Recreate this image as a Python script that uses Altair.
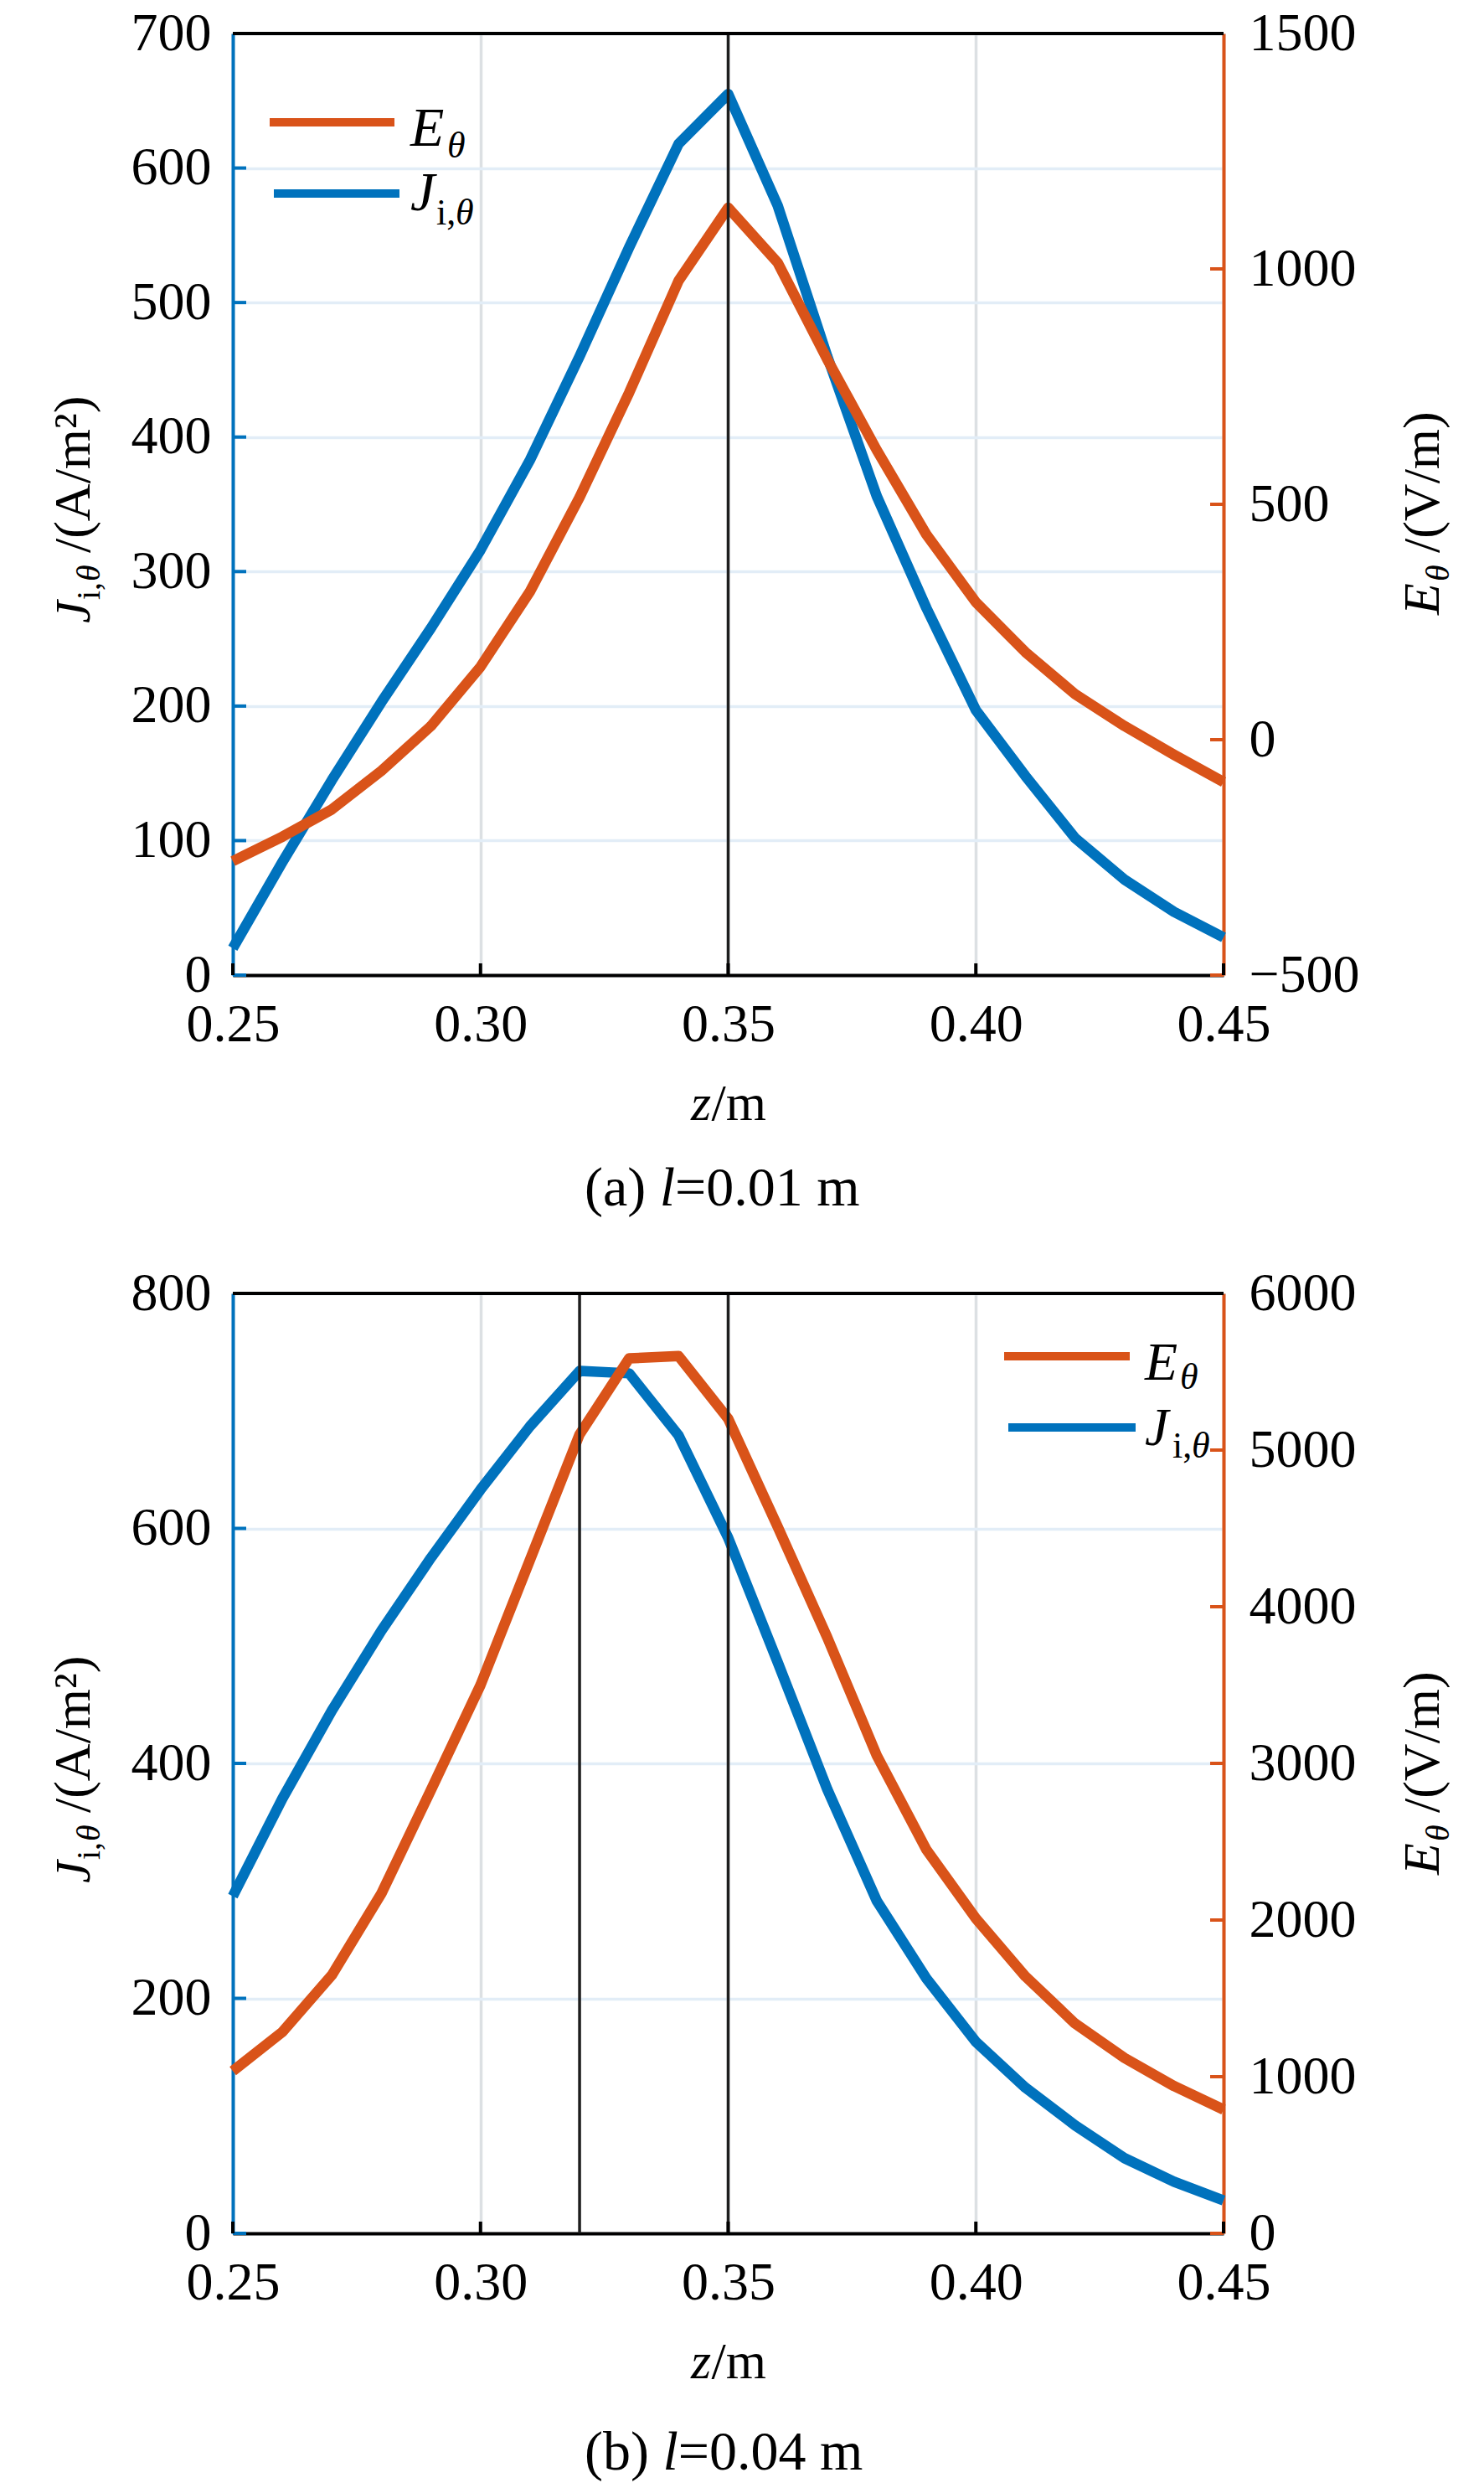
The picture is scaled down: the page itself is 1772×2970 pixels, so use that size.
import altair as alt
import pandas as pd

# ---------------- data ----------------
Z = [0.25, 0.26, 0.27, 0.28, 0.29, 0.30, 0.31, 0.32, 0.33, 0.34, 0.35,
     0.36, 0.37, 0.38, 0.39, 0.40, 0.41, 0.42, 0.43, 0.44, 0.45]

# panel (a) l = 0.01 m
J_A = [20, 84, 145, 203, 258, 316, 383, 460, 541, 618, 655,
       572, 460, 356, 273, 197, 148, 102, 71, 47, 28]
E_A = [-258, -206, -148, -66, 29, 155, 315, 515, 737, 975, 1130,
       1013, 808, 615, 436, 292, 186, 97, 29, -32, -90]

# panel (b) l = 0.04 m
J_B = [287, 370, 445, 513, 575, 633, 687, 734, 732, 679, 592,
       486, 378, 283, 217, 163, 124, 92, 64, 44, 28]
E_B = [1036, 1285, 1649, 2170, 2830, 3500, 4300, 5100, 5585, 5600, 5200,
       4510, 3804, 3050, 2450, 2010, 1640, 1340, 1120, 940, 790]

X_TICKS = [0.25, 0.30, 0.35, 0.40, 0.45]
J_TICKS_A = [0, 100, 200, 300, 400, 500, 600, 700]
E_TICKS_A = [-500, 0, 500, 1000, 1500]
J_TICKS_B = [0, 200, 400, 600, 800]
E_TICKS_B = [0, 1000, 2000, 3000, 4000, 5000, 6000]
VLINES_A = [0.35]
VLINES_B = [0.32, 0.35]

CAPTION_A = ["(a) ", "l", "=0.01 m"]
CAPTION_B = ["(b) ", "l", "=0.04 m"]

# ---------------- style ----------------
BLUE = "#0072BD"
ORANGE = "#D95319"
FONT = "Liberation Serif"
W = 1183
H_A = 1124
H_B = 1122
TICK_FS = 64
LINE_W = 12.5


def txt(s, x, y, size=62, italic=False, angle=0, align="left"):
    kw = dict(font=FONT, fontSize=size, align=align, baseline="alphabetic",
              color="black")
    if italic:
        kw["fontStyle"] = "italic"
    if angle:
        kw["angle"] = angle
    return alt.Chart(pd.DataFrame({"t": [s]})).mark_text(**kw).encode(
        x=alt.value(x), y=alt.value(y), text="t:N")


def hline(x1, x2, y, color, width):
    return alt.Chart(pd.DataFrame({"a": [0]})).mark_rule(
        color=color, strokeWidth=width).encode(
        x=alt.value(x1), x2=alt.value(x2), y=alt.value(y))


def panel(J, E, jt, et, jdom, edom, vlines, H, leg, caption, cap_dy, wpre):
    df = pd.DataFrame({"z": Z, "J": J, "E": E})

    xaxis = alt.Axis(values=X_TICKS, format=".2f", title=None, grid=True,
                     gridColor="#DCE0E3", gridWidth=3.5, ticks=False,
                     tickSize=0, domainColor="black", domainWidth=4,
                     labelFont=FONT, labelFontSize=TICK_FS,
                     labelColor="black", labelBaseline="alphabetic",
                     labelPadding=78, labelFlush=False, labelOverlap=False)
    xscale = alt.Scale(domain=[0.25, 0.45], nice=False, zero=False)

    def X(field="z"):
        return alt.X(f"{field}:Q", scale=xscale, axis=xaxis)

    jscale = alt.Scale(domain=jdom, nice=False, zero=False)
    escale = alt.Scale(domain=edom, nice=False, zero=False)
    laxis = alt.Axis(orient="left", values=jt, format="d", title=None,
                     grid=True, gridColor="#E2EDF7", gridWidth=3.5,
                     ticks=False, tickSize=0, domainColor=BLUE,
                     domainWidth=4, labelFont=FONT, labelFontSize=TICK_FS,
                     labelColor="black", labelPadding=26, labelFlush=False,
                     labelOverlap=False)
    raxis = alt.Axis(orient="right", values=et, format="d", title=None,
                     grid=False, ticks=False, tickSize=0, domainColor=ORANGE,
                     domainWidth=4, labelFont=FONT, labelFontSize=TICK_FS,
                     labelColor="black", labelPadding=30, labelFlush=False,
                     labelOverlap=False)

    blue_line = alt.Chart(df).mark_line(
        color=BLUE, strokeWidth=LINE_W, strokeJoin="round").encode(
        x=X(), y=alt.Y("J:Q", scale=jscale, axis=laxis))
    left_ticks = alt.Chart(pd.DataFrame({"J": jt})).mark_rule(
        color=BLUE, strokeWidth=4).encode(
        x=alt.value(0), x2=alt.value(16),
        y=alt.Y("J:Q", scale=jscale, axis=laxis))
    blue_grp = alt.layer(blue_line, left_ticks).resolve_scale(y="shared")

    orange_line = alt.Chart(df).mark_line(
        color=ORANGE, strokeWidth=LINE_W, strokeJoin="round").encode(
        x=X(), y=alt.Y("E:Q", scale=escale, axis=raxis))
    right_ticks = alt.Chart(pd.DataFrame({"E": et})).mark_rule(
        color=ORANGE, strokeWidth=4).encode(
        x=alt.value(W - 16), x2=alt.value(W),
        y=alt.Y("E:Q", scale=escale, axis=raxis))
    orange_grp = alt.layer(orange_line, right_ticks).resolve_scale(y="shared")

    vrules = alt.Chart(pd.DataFrame({"z": vlines})).mark_rule(
        color="#1e1e1e", strokeWidth=3.5).encode(x=X())
    xticks = alt.Chart(pd.DataFrame({"z": X_TICKS})).mark_rule(
        color="black", strokeWidth=4).encode(
        x=X(), y=alt.value(H - 14), y2=alt.value(H))
    top_border = hline(0, W, 0, "black", 4)

    # legend (drawn by hand so that subscripts are possible)
    (ox1, ox2, oy, ex, ey, thx, thy,
     bx1, bx2, by, jx, jy, sx, sy, lfs) = leg
    legend = [
        hline(ox1, ox2, oy, ORANGE, 10),
        txt("E", ex, ey, lfs, italic=True),
        txt("θ", thx, thy, 44, italic=True),
        hline(bx1, bx2, by, BLUE, 10),
        txt("J", jx, jy, lfs, italic=True),
        txt("i,", sx, sy, 44),
        txt("θ", sx + 23, sy, 44, italic=True),
    ]

    cx0 = 420
    cx1 = cx0 + wpre * 66
    cx2 = cx1 + 0.278 * 66
    titles = [
        # left: J_{i,θ} /(A/m²)
        txt("J", -171, 704, 60, italic=True, angle=270),
        txt("i,", -159, 676, 40, angle=270),
        txt("θ", -159, 654, 40, italic=True, angle=270),
        txt("/(A/m²)", -171, 620, 62, angle=270),
        # right: E_θ /(V/m)
        txt("E", 1440, 694, 62, italic=True, angle=270),
        txt("θ", 1452, 654, 40, italic=True, angle=270),
        txt("/(V/m)", 1440, 620, 62, angle=270),
        # bottom: z/m
        txt("z", 547, H + 173, 62, italic=True),
        txt("/m", 571.5, H + 173, 62),
        # caption
        txt(caption[0], cx0, H + cap_dy, 66),
        txt(caption[1], cx1, H + cap_dy, 66, italic=True),
        txt(caption[2], cx2, H + cap_dy, 66),
    ]

    layers = [blue_grp, orange_grp, vrules, xticks, top_border] + legend + titles
    return alt.layer(*layers).resolve_scale(y="independent").properties(
        width=W, height=H)


leg_a = (44, 193, 106, 212, 134, 256, 148,
         49, 199, 191, 212, 211, 243, 228, 66)
leg_b = (921, 1071, 75, 1089, 103, 1131, 114,
         926, 1078, 160, 1089, 181, 1122, 196, 64)

top = panel(J_A, E_A, J_TICKS_A, E_TICKS_A, [0, 700], [-500, 1500],
            VLINES_A, H_A, leg_a, CAPTION_A, 275, 1.36)
bottom = panel(J_B, E_B, J_TICKS_B, E_TICKS_B, [0, 800], [0, 6000],
               VLINES_B, H_B, leg_b, CAPTION_B, 282, 1.416)

chart = alt.vconcat(top, bottom, spacing=60).properties(
    padding={"left": 49, "top": 0, "right": 10, "bottom": 5},
    background="white",
).configure_view(strokeWidth=0)

chart.save("out.html", embed_options={"renderer": "svg", "actions": False})
